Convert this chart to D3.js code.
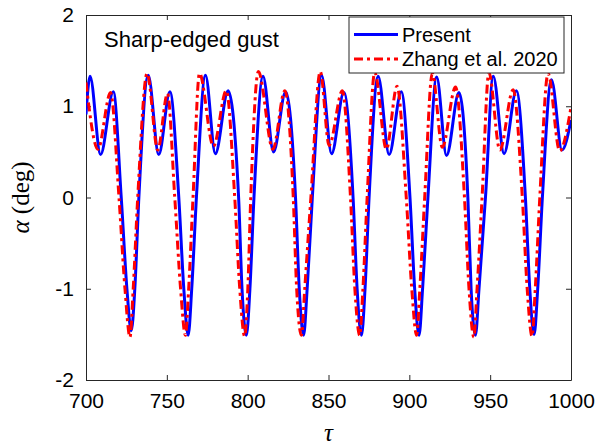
<!DOCTYPE html>
<html>
  <head>
    <meta charset="utf-8" />
    <title>Sharp-edged gust response</title>
    <script src="https://d3js.org/d3.v7.min.js"></script>
    <style>
      body { margin: 0; background: #fff; }
      svg text { font-family: "Liberation Sans", Arial, sans-serif; fill: #000; }
      .axis path, .axis line { stroke: #262626; }
      .line { fill: none; }
    </style>
  </head>
  <body>
    <svg width="597" height="448"></svg>
    <script>
      // Values (tau, alpha in deg)
      const presentTau = [700, 702.5, 709, 716.9, 721.8, 725.3, 728, 730.2, 732.7, 738.5, 745, 751.9, 757.4, 760.5, 763.2, 765.4, 768.3, 773.9, 780, 787.9, 794.4, 796.5, 799.2, 801.4, 803.9, 809.5, 816, 823.5, 829.6, 831.9, 834.6, 836.8, 840, 845.7, 851.9, 859.5, 865.2, 867.7, 870.4, 872.6, 875.1, 880.7, 887.5, 895, 900.4, 903.3, 906, 908.2, 911.5, 916.9, 923, 930.7, 936.2, 938.2, 940.9, 943.1, 947.1, 951.9, 958.6, 966.2, 971.8, 974.5, 977.2, 979.4, 982.3, 987.9, 994.4, 1000];
      const presentAlpha = [0.91, 1.33, 0.47, 1.16, 0, -1, -1.46, -1, 0, 1.34, 0.47, 1.16, 0, -1, -1.51, -1, 0, 1.34, 0.48, 1.17, 0, -1, -1.51, -1, 0, 1.33, 0.5, 1.16, 0, -1, -1.51, -1, 0, 1.34, 0.48, 1.15, 0, -1, -1.51, -1, 0, 1.33, 0.47, 1.16, 0, -1, -1.51, -1, 0, 1.32, 0.46, 1.15, 0, -1, -1.51, -1, 0, 1.33, 0.48, 1.17, 0, -1, -1.5, -1, 0, 1.29, 0.52, 0.85];

      const zhangTau = [700, 707.4, 715.2, 720.4, 724.1, 727.2, 729.2, 732, 737.8, 744.4, 750.4, 754.9, 758.5, 761.5, 763.5, 766.2, 770.2, 778.8, 786.8, 792, 795.1, 798.1, 800.1, 801.9, 806.6, 815.6, 823, 828.2, 830.3, 833.3, 835.3, 839.1, 844.9, 850.4, 858.6, 863.6, 866.3, 869.3, 871.3, 873.9, 878.6, 885.8, 892.4, 898.1, 901.5, 904.5, 906.5, 909.5, 914.2, 920.4, 928.6, 934.1, 936.9, 939.9, 941.9, 945, 949.2, 956, 964.2, 969.9, 972.9, 975.9, 977.9, 980.7, 985.8, 993, 1000];
      const zhangAlpha = [1.26, 0.53, 1.15, 0, -1, -1.53, -1, 0, 1.36, 0.52, 1.14, 0, -1, -1.51, -1, 0, 1.36, 0.56, 1.17, 0, -1, -1.52, -1, 0, 1.38, 0.53, 1.17, 0, -1, -1.51, -1, 0, 1.38, 0.57, 1.17, 0, -1, -1.51, -1, 0, 1.37, 0.53, 1.22, 0, -1, -1.51, -1, 0, 1.36, 0.55, 1.21, 0, -1, -1.53, -1, 0, 1.37, 0.52, 1.18, 0, -1, -1.52, -1, 0, 1.36, 0.51, 0.99];

      const xTicks = [700, 750, 800, 850, 900, 950, 1000];
      const yTicks = [-2, -1, 0, 1, 2];
      const legendLabels = ["Present", "Zhang et al. 2020"];

      const svg = d3.select("svg");
      const margin = { top: 15, right: 26, bottom: 68, left: 86 };
      const width = +svg.attr("width") - margin.left - margin.right;
      const height = +svg.attr("height") - margin.top - margin.bottom;
      const g = svg
        .append("g")
        .attr("transform", "translate(" + margin.left + "," + margin.top + ")");

      const x = d3.scaleLinear().domain([700, 1000]).range([0, width]);
      const y = d3.scaleLinear().domain([-2, 2]).range([height, 0]);

      // clip the curves to the plot box
      g.append("clipPath")
        .attr("id", "clip")
        .append("rect")
        .attr("width", width)
        .attr("height", height);

      // axes on all four sides, ticks pointing inward (plain hyphen for minus)
      const fmt = (d) => String(d);
      g.append("g")
        .attr("class", "axis axis--x")
        .attr("transform", "translate(0," + height + ")")
        .call(d3.axisBottom(x).tickValues(xTicks).tickFormat(fmt).tickSizeInner(-5).tickSizeOuter(0).tickPadding(13));
      g.append("g")
        .attr("class", "axis")
        .call(d3.axisTop(x).tickValues(xTicks).tickSizeInner(-5).tickSizeOuter(0).tickFormat(""));
      g.append("g")
        .attr("class", "axis axis--y")
        .call(d3.axisLeft(y).tickValues(yTicks).tickFormat(fmt).tickSizeInner(-5).tickSizeOuter(0).tickPadding(12));
      g.append("g")
        .attr("class", "axis")
        .attr("transform", "translate(" + width + ",0)")
        .call(d3.axisRight(y).tickValues(yTicks).tickSizeInner(-5).tickSizeOuter(0).tickFormat(""));

      g.selectAll(".axis text").style("font-size", "21px").attr("fill", "#000");
      g.selectAll(".axis path").attr("stroke-width", 1);

      const line = d3
        .line()
        .x((d) => x(d[0]))
        .y((d) => y(d[1]))
        .curve(d3.curveMonotoneX);

      const present = presentTau.map((t, i) => [t, presentAlpha[i]]);
      const zhang = zhangTau.map((t, i) => [t, zhangAlpha[i]]);

      g.append("path")
        .datum(present)
        .attr("class", "line")
        .attr("clip-path", "url(#clip)")
        .attr("stroke", "#0000ff")
        .attr("stroke-width", 3)
        .attr("d", line);

      g.append("path")
        .datum(zhang)
        .attr("class", "line")
        .attr("clip-path", "url(#clip)")
        .attr("stroke", "#ff0000")
        .attr("stroke-width", 3)
        .attr("stroke-dasharray", "9,4,3,4")
        .attr("d", line);

      // annotation
      g.append("text")
        .attr("x", 18)
        .attr("y", 32)
        .style("font-size", "22px")
        .text("Sharp-edged gust");

      // legend
      const legend = g.append("g").attr("transform", "translate(263,2)");
      legend.append("rect")
        .attr("width", 215)
        .attr("height", 56)
        .attr("fill", "#fff")
        .attr("stroke", "#262626")
        .attr("stroke-width", 1);
      const styles = [
        { color: "#0000ff", dash: null },
        { color: "#ff0000", dash: "9,4,3,4" },
      ];
      legendLabels.forEach((lab, i) => {
        const yy = 17.5 + i * 24.5;
        legend.append("line")
          .attr("x1", 5).attr("x2", 49)
          .attr("y1", yy).attr("y2", yy)
          .attr("stroke", styles[i].color)
          .attr("stroke-width", 3)
          .attr("stroke-dasharray", styles[i].dash);
        legend.append("text")
          .attr("x", 53)
          .attr("y", yy)
          .attr("dy", "0.35em")
          .style("font-size", "20px")
          .text(lab);
      });

      // axis titles
      svg.append("text")
        .attr("transform", "translate(29," + (margin.top + height / 2) + ") rotate(-90)")
        .attr("text-anchor", "middle")
        .style("font-family", "'Liberation Serif', 'DejaVu Serif', serif")
        .style("font-size", "25px")
        .html('<tspan font-style="italic">α</tspan> (deg)');

      svg.append("text")
        .attr("x", margin.left + width / 2)
        .attr("y", 441)
        .attr("text-anchor", "middle")
        .style("font-family", "'Liberation Serif', 'DejaVu Serif', serif")
        .style("font-style", "italic")
        .style("font-size", "25px")
        .text("τ");
    </script>
  </body>
</html>
